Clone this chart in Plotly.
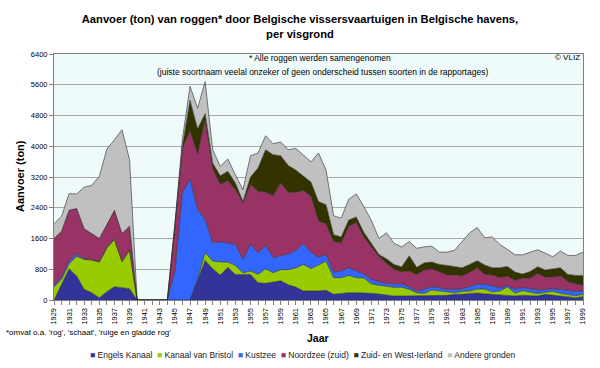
import plotly.graph_objects as go

years = list(range(1929, 2000))

engels_kanaal = [0, 400, 813, 623, 277, 190, 60, 216, 346, 320, 294,
                 0, 0, 0, 0, 0,
                 0, 0, 0, 520, 1030, 813, 649, 850, 666, 666, 666, 450, 433, 467, 500,
                 395, 335, 234, 225, 234, 255, 147, 170, 190, 190,
                 190, 173, 155, 135, 104, 104, 104, 104, 104, 121,
                 115, 121, 147, 147, 170, 180, 160, 147, 125, 125,
                 104, 121, 104, 104, 147, 121, 104, 86, 60, 86]
kanaal_van_bristol = [340, 140, 127, 517, 778, 848, 926, 1142, 1228, 680, 1006,
                      0, 0, 0, 0, 0,
                      0, 0, 0, 30, 200, 199, 341, 140, 234, 43, 87, 216, 380, 242, 290,
                      395, 500, 691, 593, 674, 757, 433, 410, 450, 390,
                      380, 247, 230, 215, 226, 229, 173, 86, 69, 139,
                      119, 87, 43, 78, 64, 105, 125, 65, 109, 215,
                      76, 121, 95, 64, 52, 104, 69, 61, 52, 61]
kustzee = [40, 60, 70, 60, 20, 12, 9, 7, 6, 5, 5,
           0, 0, 0, 0, 0,
           750, 2785, 3150, 1803, 863, 476, 524, 498, 545, 346, 692, 562, 606, 390, 352,
           410, 455, 545, 422, 202, 173, 147, 173, 199, 173,
           110, 110, 85, 80, 90, 87, 69, 44, 104, 86,
           86, 69, 87, 69, 112, 122, 122, 143, 86, 32,
           105, 78, 95, 100, 69, 69, 104, 100, 113, 87]
noordzee_zuid = [1220, 1190, 1325, 1180, 776, 671, 605, 598, 755, 725, 615,
                 0, 0, 0, 0, 0,
                 1150, 1175, 1250, 1447, 2597, 1932, 1488, 1612, 1427, 1471, 1557, 1601, 1384, 1617, 1903,
                 1600, 1510, 1380, 1460, 950, 795, 793, 727, 1071, 1267,
                 960, 850, 660, 520, 380, 315, 407, 431, 501, 467,
                 407, 376, 376, 329, 372, 432, 259, 298, 260, 251,
                 221, 247, 273, 424, 325, 299, 354, 233, 195, 147]
zuid_west_ierland = [0, 0, 0, 0, 0, 0, 0, 0, 0, 0, 0,
                     0, 0, 0, 0, 0,
                     50, 60, 800, 650, 160, 144, 228, 248, 173, 43, 198, 605, 1107, 1064, 709,
                     700, 580, 375, 370, 500, 500, 180, 160, 170, 140,
                     120, 100, 55, 120, 125, 125, 397, 185, 191, 173,
                     199, 247, 212, 217, 208, 181, 247, 186, 260, 251,
                     221, 108, 173, 173, 185, 212, 208, 186, 220, 259]
andere_gronden = [380, 390, 433, 380, 1081, 1263, 1618, 1964, 1834, 2700, 1730,
                  0, 0, 0, 0, 0,
                  50, 180, 360, 540, 830, 346, 247, 320, 216, 303, 554, 389, 363, 286, 356,
                  410, 565, 550, 525, 1263, 900, 490, 490, 540, 600,
                  670, 590, 420, 677, 550, 520, 370, 495, 415, 415,
                  320, 346, 428, 691, 821, 865, 705, 801, 605, 441,
                  449, 501, 497, 441, 442, 320, 433, 493, 519, 606]

series_names = ["Engels Kanaal", "Kanaal van Bristol", "Kustzee",
                "Noordzee (zuid)", "Zuid- en West-Ierland", "Andere gronden"]
series_values = [engels_kanaal, kanaal_van_bristol, kustzee,
                 noordzee_zuid, zuid_west_ierland, andere_gronden]
series_colors = ["#333399", "#99cc00", "#3366ff", "#993366", "#333300", "#c0c0c0"]

y_ticks = [0, 800, 1600, 2400, 3200, 4000, 4800, 5600, 6400]
x_tick_years = years[::2]

FONT = "Liberation Sans, Arial, sans-serif"

fig = go.Figure()
for name, vals, col in zip(series_names, series_values, series_colors):
    fig.add_trace(go.Scatter(
        x=years, y=vals, name=name, mode="lines",
        stackgroup="one", fillcolor=col,
        line=dict(color="#2a2a2a", width=0.6),
        showlegend=False,
    ))

# plot geometry in pixels
L, R, T, B = 54, 583, 54, 300
W, H = 600, 368
pw, ph = R - L, B - T

def px(x):
    return (x - L) / pw

def py(y):
    return (B - y) / ph

legend_text = "&nbsp;&nbsp;".join(
    f"<span style='color:{c}'>■</span> {n}" for n, c in zip(series_names, series_colors)
)

fig.update_layout(
    width=W, height=H,
    margin=dict(l=L, r=W - R, t=T, b=H - B, pad=0, autoexpand=False),
    paper_bgcolor="white",
    plot_bgcolor="#effbfb",
    font=dict(family=FONT, size=8, color="#000000"),
    title=dict(
        text="Aanvoer (ton) van roggen* door Belgische vissersvaartuigen in Belgische havens,<br>per visgrond",
        x=0.5, xref="container", xanchor="center",
        y=1 - 23 / H, yref="container", yanchor="top",
        font=dict(family=FONT, size=11.2, color="#000000", weight="bold"),
    ),
    xaxis=dict(
        range=[1929, 1999],
        tickmode="array", tickvals=x_tick_years,
        ticktext=[str(y) for y in x_tick_years],
        tickangle=-90,
        ticks="outside", ticklen=4, tickcolor="#808080", tickwidth=1,
        minor=dict(ticks="outside", ticklen=4, dtick=1, tick0=1929,
                   tickcolor="#808080", tickwidth=1, showgrid=False),
        showgrid=False, zeroline=False,
        showline=True, linecolor="#808080", linewidth=1, mirror=True,
        tickfont=dict(size=7.5, family=FONT),
        automargin=False,
    ),
    yaxis=dict(
        range=[0, 6400],
        tickmode="array", tickvals=y_ticks,
        ticks="outside", ticklen=4, tickcolor="#808080", tickwidth=1,
        showgrid=True, gridcolor="#a8a8a8", gridwidth=1,
        zeroline=False,
        showline=True, linecolor="#808080", linewidth=1, mirror=True,
        tickfont=dict(size=7.5, family=FONT),
        automargin=False,
    ),
    annotations=[
        dict(text="* Alle roggen werden samengenomen", xref="paper", yref="paper",
             x=px(320), y=py(58), xanchor="center", yanchor="middle", showarrow=False,
             font=dict(size=8.5, family=FONT)),
        dict(text="(juiste soortnaam veelal onzeker of geen onderscheid tussen soorten in de rapportages)",
             xref="paper", yref="paper",
             x=px(322), y=py(72), xanchor="center", yanchor="middle", showarrow=False,
             font=dict(size=8.5, family=FONT)),
        dict(text="© VLIZ", xref="paper", yref="paper",
             x=px(582), y=py(58), xanchor="right", yanchor="middle", showarrow=False,
             font=dict(size=8, family=FONT)),
        dict(text="<b>Aanvoer (ton)</b>", xref="paper", yref="paper",
             x=px(20), y=py(176), xanchor="center", yanchor="middle", showarrow=False,
             textangle=-90, font=dict(size=11, family=FONT)),
        dict(text="<b>Jaar</b>", xref="paper", yref="paper",
             x=px(318), y=py(338), xanchor="center", yanchor="middle", showarrow=False,
             font=dict(size=10.5, family=FONT)),
        dict(text="*omvat o.a. 'rog', 'schaat', 'ruige en gladde rog'", xref="paper", yref="paper",
             x=px(4), y=py(332), xanchor="left", yanchor="middle", showarrow=False,
             font=dict(size=8, family=FONT)),
        dict(text=legend_text, xref="paper", yref="paper",
             x=px(303), y=py(355), xanchor="center", yanchor="middle", showarrow=False,
             font=dict(size=8.5, family=FONT, color="#222222")),
    ],
)

fig.write_html("out.html",
               config={"displayModeBar": False},
               post_script="document.body.style.margin='0';document.body.style.padding='0';")
